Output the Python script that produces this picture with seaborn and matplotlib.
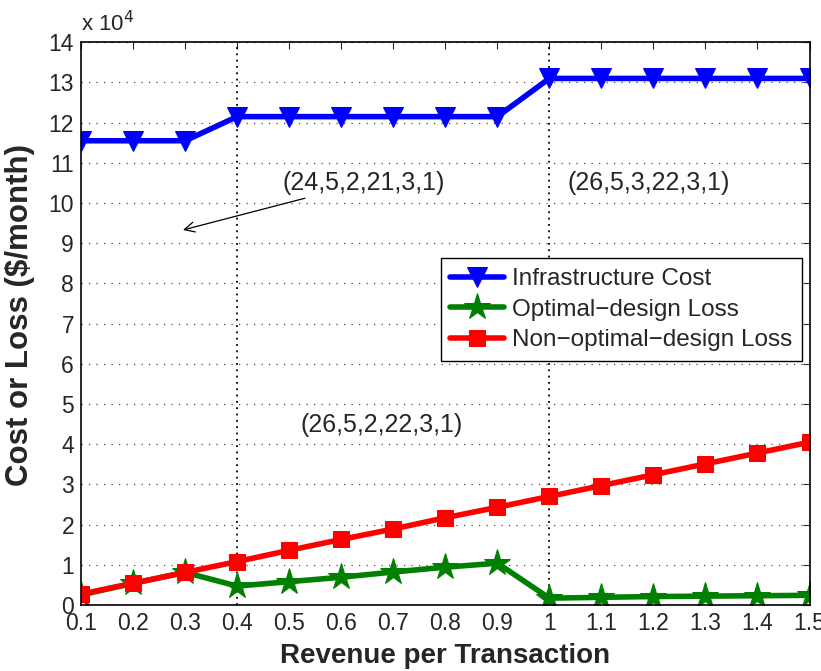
import numpy as np
import pandas as pd
import matplotlib
matplotlib.use("Agg")
import matplotlib.pyplot as plt
import seaborn as sns

# revenue per transaction
revenue = [0.1, 0.2, 0.3, 0.4, 0.5, 0.6, 0.7, 0.8, 0.9, 1.0, 1.1, 1.2, 1.3, 1.4, 1.5]
# values in units of 1e4 $/month
infra_cost = [11.55, 11.55, 11.55, 12.15, 12.15, 12.15, 12.15, 12.15, 12.15,
              13.1, 13.1, 13.1, 13.1, 13.1, 13.1]
opt_loss = [0.25, 0.54, 0.81, 0.47, 0.58, 0.69, 0.82, 0.94, 1.04,
            0.17, 0.19, 0.21, 0.22, 0.23, 0.24]
nonopt_loss = [0.27, 0.54, 0.81, 1.08, 1.36, 1.63, 1.89, 2.17, 2.43,
               2.70, 2.97, 3.24, 3.51, 3.78, 4.05]
xtick_labels = ["0.1", "0.2", "0.3", "0.4", "0.5", "0.6", "0.7", "0.8", "0.9",
                "1", "1.1", "1.2", "1.3", "1.4", "1.5"]

series = ["Infrastructure Cost", "Optimal\u2212design Loss", "Non\u2212optimal\u2212design Loss"]
colors = ["#0000ff", "#008000", "#ff0000"]
markers = ["v", "*", "s"]
msizes = [15, 20, 12]

df = pd.DataFrame({"rev": revenue * 3,
                   "val": infra_cost + opt_loss + nonopt_loss,
                   "series": [series[0]] * 15 + [series[1]] * 15 + [series[2]] * 15})

sns.set_style("white")
plt.rcParams['font.family'] = ['Liberation Sans', 'DejaVu Sans']

fig = plt.figure(figsize=(8.21, 6.71), dpi=100)
ax = fig.add_axes([0.0987, 0.0984, 0.8873, 0.8386])

for s, c, m, ms in zip(series, colors, markers, msizes):
    sns.lineplot(data=df[df.series == s], x="rev", y="val", color=c, marker=m,
                 markersize=ms, markeredgecolor=c, linewidth=4, label=s, ax=ax)

ax.set_xlim(0.1, 1.5)
ax.set_ylim(0, 14)
ax.set_xticks(revenue)
ax.set_xticklabels(xtick_labels)
ax.set_yticks(range(0, 15))
ax.tick_params(direction="in", top=True, right=True, labelsize=16.5, length=5, width=0.8)
ax.tick_params(axis="x", pad=5)
ax.tick_params(axis="y", pad=5)
ax.grid(axis="y", linestyle=(0, (1, 5)), color="#444444", linewidth=0.9)
for sp in ax.spines.values():
    sp.set_color("black")
    sp.set_linewidth(1.2)

# region boundaries
for xv in [0.4, 1.0]:
    ax.axvline(xv, color="black", linestyle=(0, (1, 2.5)), linewidth=1.3, zorder=1)

ax.set_xlabel("Revenue per Transaction", fontsize=20, fontweight="bold", labelpad=6)
ax.set_ylabel("Cost or Loss ($/month)", fontsize=22.5, fontweight="bold")
ax.yaxis.set_label_coords(-0.063, 0.515)
ax.text(0.0, 1.01, r"x 10$^4$", transform=ax.transAxes, fontsize=16, ha="left", va="bottom")

ax.annotate("(24,5,2,21,3,1)", xy=(0.296, 9.33), xytext=(0.487, 10.5),
            fontsize=18, va="center", ha="left",
            arrowprops=dict(arrowstyle="->", color="black", lw=0.9, shrinkA=0, shrinkB=0,
                            mutation_scale=18))
ax.text(1.035, 10.5, "(26,5,3,22,3,1)", fontsize=18, va="center", ha="left")
ax.text(0.521, 4.48, "(26,5,2,22,3,1)", fontsize=18, va="center", ha="left")

leg = ax.legend(loc="upper right", bbox_to_anchor=(0.99, 0.616), fontsize=17.5,
                frameon=True, fancybox=False, edgecolor="black", framealpha=1,
                handlelength=2.2, handletextpad=0.35, borderpad=0.4, labelspacing=0.35,
                borderaxespad=0)
leg.get_frame().set_linewidth(1.0)

plt.savefig("out.png", dpi=100)
